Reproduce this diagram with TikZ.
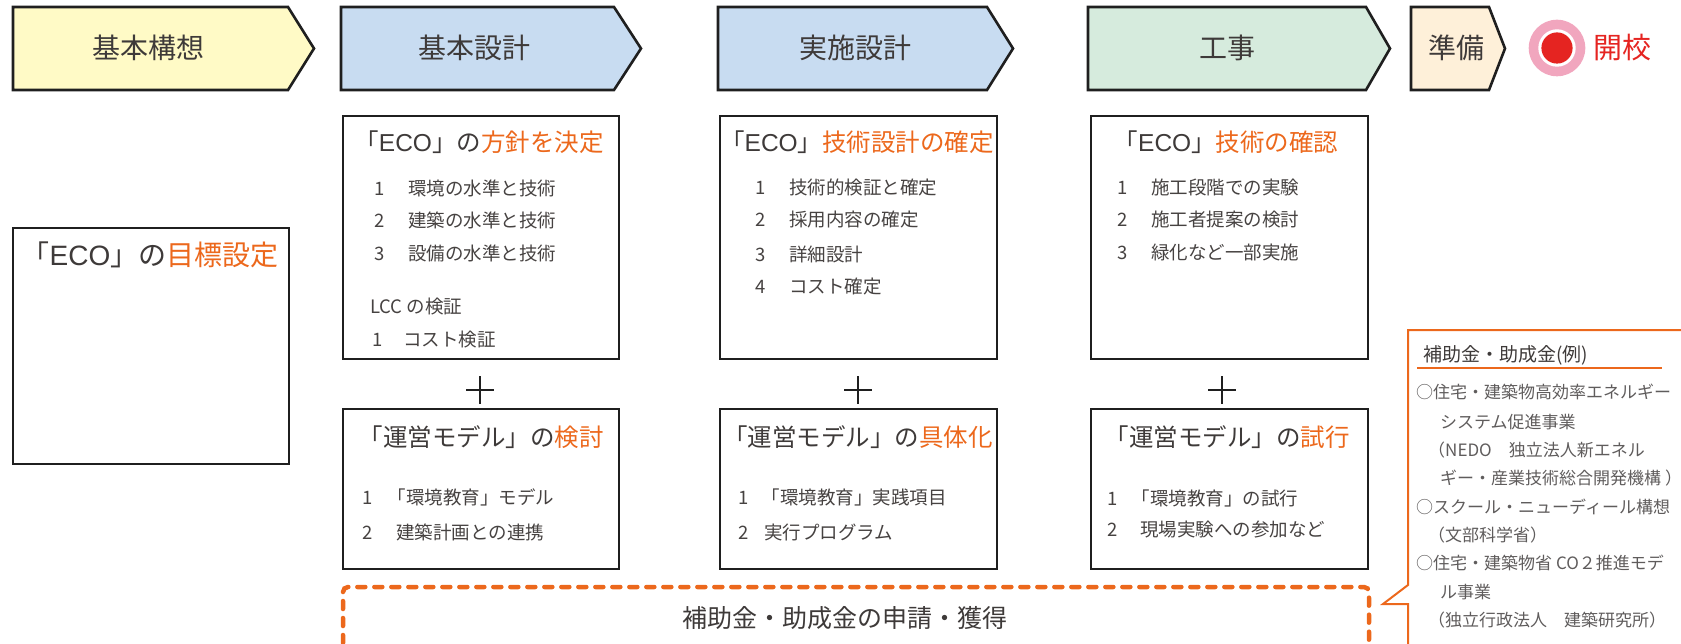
\documentclass[tikz,border=0pt]{standalone}
\usepackage{fontspec}
\setmainfont{Noto Sans CJK JP}
\newfontfamily\latinfont{Liberation Sans}
\newcommand{\eco}{{\latinfont ECO}}
\newcommand{\kagi}{\hspace{-0.45em}「}
\definecolor{txt}{RGB}{62,58,57}
\definecolor{itmtxt}{RGB}{70,66,65}
\definecolor{lsttxt}{RGB}{95,92,92}
\definecolor{orng}{RGB}{236,104,28}
\definecolor{kousou}{RGB}{255,250,198}
\definecolor{sekkei}{RGB}{200,220,241}
\definecolor{kouji}{RGB}{214,235,221}
\definecolor{junbi}{RGB}{254,240,217}
\definecolor{pinkring}{RGB}{241,166,190}
\definecolor{kaikou}{RGB}{229,36,33}
\tikzset{
  stage/.style={draw=black!88, line width=2.6pt, line join=miter},
  hd/.style={font=\fontsize{28}{30}\selectfont, text=txt, inner sep=0pt},
  box/.style={draw=black!88, line width=2pt},
  ttl/.style={font=\fontsize{24.5}{28}\selectfont, text=txt, inner sep=0pt},
  itm/.style={font=\fontsize{18.5}{22}\selectfont, text=itmtxt, anchor=west, inner sep=0pt},
  lst/.style={font=\fontsize{17}{20}\selectfont, text=lsttxt, anchor=west, inner sep=0pt},
}
\begin{document}
\begin{tikzpicture}[x=1pt,y=-1pt]  %1 unidade = 1 pixel, y para baixo
\useasboundingbox (0,0) rectangle (1681,644);
\clip (0,0) rectangle (1681,644);
            %Etapas
\draw[stage, fill=kousou] (13,7) -- (288,7) -- (314,48.5) -- (288,90) -- (13,90) -- cycle;
\draw[stage, fill=sekkei] (341,7) -- (614,7) -- (641,48.5) -- (614,90) -- (341,90) -- cycle;
\draw[stage, fill=sekkei] (718,7) -- (987,7) -- (1013,48.5) -- (987,90) -- (718,90) -- cycle;
\draw[stage, fill=kouji] (1088,7) -- (1366,7) -- (1390,48.5) -- (1366,90) -- (1088,90) -- cycle;
\draw[stage, fill=junbi] (1411,7) -- (1489,7) -- (1505,48.5) -- (1489,90) -- (1411,90) -- cycle;
\node[hd] (kousou) at (148,48) {基本構想};
\node[hd] (kihon) at (474,48) {基本設計};
\node[hd] (jisshi) at (855,48) {実施設計};
\node[hd] (kouji) at (1227,48) {工事};
\node[hd] (junbi) at (1456,48) {準備};
            %Abertura
\fill[pinkring] (1557,48) circle (28.3);
\fill[white] (1557,48) circle (18.7);
\fill[kaikou] (1557,48) circle (15.6);
\node[hd, text=kaikou, font=\fontsize{29}{32}\selectfont] (kaikou) at (1622,48) {開校};
            %Meta
\draw[box] (13,228) rectangle (289,464);
\node[ttl, font=\fontsize{28}{30}\selectfont] (goal) at (150,255) {「\eco」の\textcolor{orng}{目標設定}};
            %Quadros ECO
\draw[box] (343,116) rectangle (619,359);
\draw[box] (720,116) rectangle (997,359);
\draw[box] (1091,116) rectangle (1368,359);
\node[ttl] (ecoA) at (479,142) {「\eco」の\textcolor{orng}{方針を決定}};
\node[itm] (a1) at (374,188) {\makebox[34pt][l]{1}環境の水準と技術};
\node[itm] (a2) at (374,220) {\makebox[34pt][l]{2}建築の水準と技術};
\node[itm] (a3) at (374,253) {\makebox[34pt][l]{3}設備の水準と技術};
\node[itm] (lcc) at (370,307) {LCC の検証};
\node[itm] (lcc1) at (372,340) {\makebox[31pt][l]{1}コスト検証};
\node[ttl] (ecoB) at (857,142) {「\eco」\textcolor{orng}{技術設計の確定}};
\node[itm] (b1) at (755,187) {\makebox[34pt][l]{1}技術的検証と確定};
\node[itm] (b2) at (755,220) {\makebox[34pt][l]{2}採用内容の確定};
\node[itm] (b3) at (755,254) {\makebox[34pt][l]{3}詳細設計};
\node[itm] (b4) at (755,287) {\makebox[34pt][l]{4}コスト確定};
\node[ttl] (ecoC) at (1226,142) {「\eco」\textcolor{orng}{技術の確認}};
\node[itm] (c1) at (1117,187) {\makebox[34pt][l]{1}施工段階での実験};
\node[itm] (c2) at (1117,220) {\makebox[34pt][l]{2}施工者提案の検討};
\node[itm] (c3) at (1117,252) {\makebox[34pt][l]{3}緑化など一部実施};
            %Sinais de mais
\foreach \px in {480,858,1222}
  \draw[line width=2.8pt, black!88] (\px-14,390) -- (\px+14,390) (\px,376) -- (\px,404);
            %Quadros modelo
\draw[box] (343,409) rectangle (619,569);
\draw[box] (720,409) rectangle (997,569);
\draw[box] (1091,409) rectangle (1368,569);
\node[ttl] (unA) at (481,437) {「運営モデル」の\textcolor{orng}{検討}};
\node[itm] (ua1) at (362,497) {\makebox[34pt][l]{1}\kagi 環境教育」モデル};
\node[itm] (ua2) at (362,532) {\makebox[34pt][l]{2}建築計画との連携};
\node[ttl] (unB) at (858,437) {「運営モデル」の\textcolor{orng}{具体化}};
\node[itm] (ub1) at (738,497) {\makebox[32pt][l]{1}\kagi 環境教育」実践項目};
\node[itm] (ub2) at (738,532) {\makebox[26pt][l]{2}実行プログラム};
\node[ttl] (unC) at (1227,437) {「運営モデル」の\textcolor{orng}{試行}};
\node[itm] (uc1) at (1107,498) {\makebox[33pt][l]{1}\kagi 環境教育」の試行};
\node[itm] (uc2) at (1107,530) {\makebox[33pt][l]{2}現場実験への参加など};
            %Subsidios
\draw[orng, line width=4.5pt, dash pattern=on 8pt off 9pt, line cap=round, rounded corners=5pt]
  (343,660) -- (343,587) -- (1369,587) -- (1369,660);
\node[ttl, font=\fontsize{25}{28}\selectfont] (shinsei) at (845,618) {補助金・助成金の申請・獲得};
            %Balao de exemplos
\draw[orng, line width=2pt, line join=miter] (1700,330) -- (1408,330) -- (1408,585) -- (1383,604) -- (1408,604) -- (1408,660);
\node[lst, text=txt, font=\fontsize{19}{22}\selectfont] (rei) at (1423,355) {補助金・助成金(例)};
\draw[orng, line width=2.5pt] (1417,368) -- (1662,368);
\node[lst] (r1) at (1416,392) {○住宅・建築物高効率エネルギー};
\node[lst] (r2) at (1440,422) {システム促進事業};
\node[lst] (r3) at (1428,450) {（NEDO　独立法人新エネル};
\node[lst] (r4) at (1440,478) {ギー・産業技術総合開発機構 ）};
\node[lst] (r5) at (1416,507) {○スクール・ニューディール構想};
\node[lst] (r6) at (1428,535) {（文部科学省）};
\node[lst] (r7) at (1416,563) {○住宅・建築物省 CO２推進モデ};
\node[lst] (r8) at (1440,592) {ル事業};
\node[lst] (r9) at (1428,620) {（独立行政法人　建築研究所）};
\end{tikzpicture}
\end{document}
